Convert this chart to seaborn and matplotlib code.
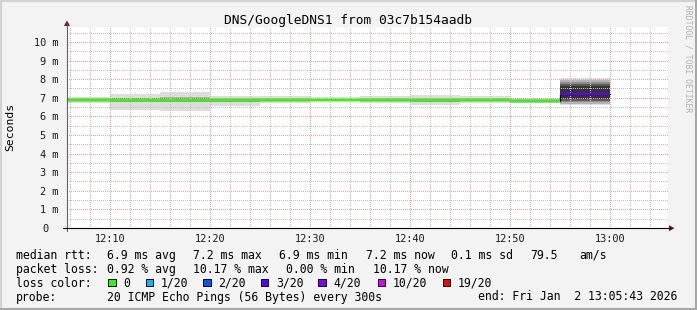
import matplotlib
matplotlib.use("Agg")
import matplotlib.pyplot as plt
import seaborn as sns
import pandas as pd
from matplotlib.lines import Line2D
from matplotlib.patches import Rectangle, Polygon
from matplotlib.ticker import MultipleLocator, FixedLocator

# ---------------- data ----------------
title = "DNS/GoogleDNS1 from 03c7b154aadb"
step_start = ["12:05", "12:10", "12:15", "12:20", "12:25", "12:30",
              "12:35", "12:40", "12:45", "12:50", "12:55"]
step_end_last = "13:00"
view_start = "12:05:43"
view_end = "13:05:50"

median_ms = [6.88, 6.90, 6.90, 6.89, 6.90, 6.87, 6.90, 6.88, 6.90, 6.85, 7.18]
lost_pings = [0, 0, 0, 0, 0, 0, 0, 0, 0, 0, 2.03]   # of 20

# smoke bands, outer -> inner (ms)
smoke_lo = [
    [6.74, 6.34, 6.27, 6.56, 6.74, 6.80, 6.74, 6.61, 6.69, 6.74, 6.60],
    [6.80, 6.78, 6.76, 6.79, 6.81, 6.80, 6.81, 6.78, 6.80, 6.78, 6.68],
    [6.83, 6.83, 6.82, 6.83, 6.85, 6.82, 6.85, 6.82, 6.85, 6.80, 6.76],
    [6.85, 6.86, 6.86, 6.85, 6.87, 6.84, 6.87, 6.85, 6.87, 6.82, 6.84],
    [6.87, 6.88, 6.88, 6.87, 6.89, 6.86, 6.89, 6.87, 6.89, 6.84, 6.92],
]
smoke_hi = [
    [7.06, 7.19, 7.30, 7.10, 7.10, 7.04, 7.08, 7.13, 7.10, 6.97, 8.05],
    [6.98, 7.00, 7.02, 6.98, 6.99, 6.95, 6.99, 6.99, 6.99, 6.92, 7.93],
    [6.94, 6.96, 6.97, 6.95, 6.95, 6.92, 6.95, 6.94, 6.95, 6.90, 7.82],
    [6.92, 6.94, 6.94, 6.93, 6.93, 6.90, 6.93, 6.91, 6.93, 6.88, 7.72],
    [6.90, 6.92, 6.92, 6.91, 6.91, 6.88, 6.91, 6.89, 6.91, 6.86, 7.62],
]
smoke_colors = ["#dddddd", "#b4b4b4", "#8c8c8c", "#5c5c5c", "#343434"]

loss_labels = ["0", "1/20", "2/20", "3/20", "4/20", "10/20", "19/20"]
loss_thresholds = [0, 1, 2, 3, 4, 10, 19]
loss_colors = ["#26ff00", "#00b8ff", "#0059ff", "#5e00ff", "#7e00ff", "#dd00ff", "#ff0000"]

x_tick_labels = ["12:10", "12:20", "12:30", "12:40", "12:50", "13:00"]
y_tick_values = [1, 2, 3, 4, 5, 6, 7, 8, 9, 10]
y_max_ms = 10.8

rtt_label = "median rtt:"
rtt_items = ["6.9 ms avg", "7.2 ms max", "6.9 ms min", "7.2 ms now", "0.1 ms sd", "79.5", "am/s"]
loss_label = "packet loss:"
loss_items = ["0.92 % avg", "10.17 % max", "0.00 % min", "10.17 % now"]
color_label = "loss color:"
probe_label = "probe:"
probe_text = "20 ICMP Echo Pings (56 Bytes) every 300s"
end_text = "end: Fri Jan  2 13:05:43 2026"
credit = "RRDTOOL / TOBI OETIKER"


def to_min(s):
    parts = [int(p) for p in s.split(":")]
    m = (parts[0] - 12) * 60 + parts[1]
    if len(parts) > 2:
        m += parts[2] / 60.0
    return m


# ---------------- figure ----------------
W, H = 697, 310
sns.set_style("white")
plt.rcParams["font.family"] = ["DejaVu Sans Mono", "DejaVu Sans"]
MONO = "DejaVu Sans Mono"

fig = plt.figure(figsize=(W / 100, H / 100), dpi=100)
fig.patch.set_facecolor("#f3f3f3")


def fx(x):
    return x / W


def fy(y):
    return 1 - y / H


ax_l, ax_r, ax_t, ax_b = 67, 668, 27, 228
ax = fig.add_axes([fx(ax_l), fy(ax_b), (ax_r - ax_l) / W, (ax_b - ax_t) / H])
ax.set_facecolor("white")

starts = [to_min(s) for s in step_start]
xs = starts + [to_min(step_end_last)]

# smoke
for lvl in range(len(smoke_lo)):
    lo = smoke_lo[lvl] + [smoke_lo[lvl][-1]]
    hi = smoke_hi[lvl] + [smoke_hi[lvl][-1]]
    ax.fill_between(xs, [v / 1000 for v in lo], [v / 1000 for v in hi],
                    step="post", color=smoke_colors[lvl], lw=0, zorder=1)

# median: dark step line underneath, colored segments on top
med_df = pd.DataFrame({"t": xs, "rtt": [v / 1000 for v in median_ms + [median_ms[-1]]]})
sns.lineplot(data=med_df, x="t", y="rtt", drawstyle="steps-post", color="#000000",
             lw=0.9, ax=ax, zorder=3, legend=False)


def loss_color(lp):
    for th, c in zip(loss_thresholds, loss_colors):
        if lp <= th:
            return c
    return loss_colors[-1]


for i in range(len(median_ms)):
    ax.hlines(median_ms[i] / 1000, xs[i], xs[i + 1], colors=loss_color(lost_pings[i]),
              lw=1.7, zorder=4)

# limits & grid
ax.set_xlim(to_min(view_start), to_min(view_end))
ax.set_ylim(0, y_max_ms / 1000)
ax.set_xlabel("")
ax.set_ylabel("")
major_x = [to_min(s) for s in x_tick_labels]
ax.xaxis.set_major_locator(FixedLocator(major_x))
ax.xaxis.set_minor_locator(MultipleLocator(2))
ax.yaxis.set_major_locator(FixedLocator([v / 1000 for v in [0] + y_tick_values]))
ax.yaxis.set_minor_locator(MultipleLocator(0.0005))
ax.set_xticklabels(x_tick_labels)
ax.set_yticklabels([""] + [f"{v} m" for v in y_tick_values])
ax.grid(which="minor", color="#c4c4c4", lw=0.72, ls=(0, (1, 2)), antialiased=False)
ax.grid(which="major", color="#f4a0a0", lw=0.72, ls=(0, (1, 1.5)), antialiased=False)
ax.set_axisbelow(False)
for s in ax.spines.values():
    s.set_visible(False)
ax.tick_params(axis="x", which="major", direction="out", length=2.3, width=0.72,
               color="#000000", pad=2.2, labelsize=7.4, labelcolor="#1a1a1a")
ax.tick_params(axis="y", which="major", direction="out", length=2.6, width=0.72,
               color="#555555", pad=3.6, labelsize=7.4, labelcolor="#1a1a1a")
ax.tick_params(which="minor", length=0)
for lab in ax.get_xticklabels() + ax.get_yticklabels():
    lab.set_family(MONO)

# axis lines and arrows
fig.add_artist(Line2D([fx(67), fx(67)], [fy(231), fy(24)], color="#606060", lw=0.8))
fig.add_artist(Line2D([fx(63), fx(671)], [fy(228.2), fy(228.2)], color="#000000", lw=0.8))
fig.add_artist(Polygon([[fx(67), fy(20.5)], [fx(64), fy(26)], [fx(70), fy(26)]],
                       closed=True, color="#8b1010", lw=0))
fig.add_artist(Polygon([[fx(674.5), fy(228.2)], [fx(669), fy(225.2)], [fx(669), fy(231.2)]],
                       closed=True, color="#8b1010", lw=0))

# zero label
fig.text(fx(45), fy(228.5), "0", family=MONO, fontsize=7.4, color="#1a1a1a",
         ha="center", va="center")

# title / labels
fig.text(fx(348), fy(24), title, family=MONO, fontsize=9.3, ha="center",
         va="baseline", color="#000000")
fig.text(fx(10.5), fy(127), "Seconds", family=MONO, fontsize=8.2, rotation=90,
         ha="center", va="center", color="#000000")
fig.text(fx(688), fy(5), credit, family=MONO, fontsize=5.8, rotation=270,
         ha="center", va="top", color="#b0b0b0")

# legend block
LFS = 8.3
rows_y = [258.7, 272.7, 286.7, 300.5]


def ltxt(x, y, s):
    fig.text(fx(x), fy(y), s, family=MONO, fontsize=LFS, ha="left", va="baseline",
             color="#000000")


ltxt(16, rows_y[0], rtt_label)
for x, s in zip([107, 193, 279, 365.5, 451, 530.5, 579.5], rtt_items):
    ltxt(x, rows_y[0], s)
ltxt(16, rows_y[1], loss_label)
for x, s in zip([107, 193.3, 286.3, 372.7], loss_items):
    ltxt(x, rows_y[1], s)
ltxt(16, rows_y[2], color_label)
box_x = [108.3, 145.7, 203.3, 261, 318.3, 377.7, 442.7]
for bx, lab, c in zip(box_x, loss_labels, loss_colors):
    fig.add_artist(Rectangle((fx(bx), fy(286.3)), 7.3 / W, 7.7 / H, facecolor=c,
                             edgecolor="#000000", lw=0.7))
    ltxt(bx + 15, rows_y[2], lab)
ltxt(16, rows_y[3], probe_label)
ltxt(107, rows_y[3], probe_text)
ltxt(478.3, rows_y[3], end_text)

# frame
fig.add_artist(Line2D([0, 1], [fy(0.7), fy(0.7)], color="#d2d2d2", lw=1.5))
fig.add_artist(Line2D([fx(0.7), fx(0.7)], [0, 1], color="#d2d2d2", lw=1.5))
fig.add_artist(Line2D([0, 1], [fy(308.8), fy(308.8)], color="#a8a8a8", lw=2.2))
fig.add_artist(Line2D([fx(695.8), fx(695.8)], [0, 1], color="#a8a8a8", lw=2.2))

fig.savefig("out.png", dpi=100, facecolor=fig.get_facecolor())
